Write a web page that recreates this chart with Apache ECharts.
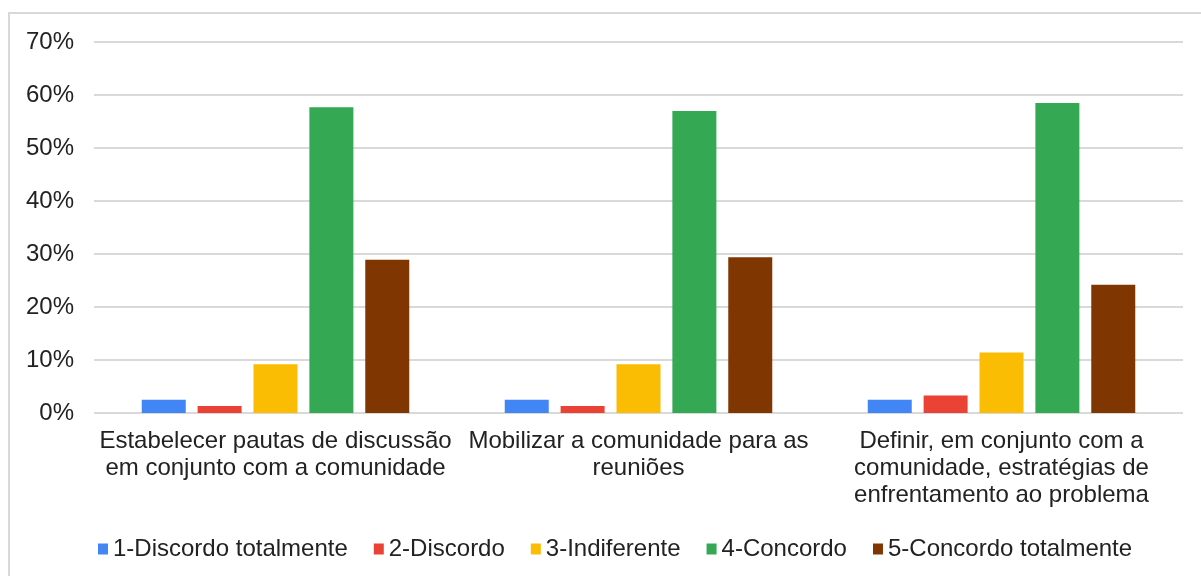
<!DOCTYPE html>
<html>
<head>
<meta charset="utf-8">
<script src="https://cdn.jsdelivr.net/npm/echarts@6/dist/echarts.min.js"></script>
<style>
  html, body { margin: 0; padding: 0; background: #fff; }
  #chart { width: 1201px; height: 576px; }
</style>
</head>
<body>
<div id="chart"></div>
<script>
// categorias (perguntas)
const categories = [
  "Estabelecer pautas de discussão\nem conjunto com a comunidade",
  "Mobilizar a comunidade para as\nreuniões",
  "Definir, em conjunto com a\ncomunidade, estratégias de\nenfrentamento ao problema"
];

const seriesNames = [
  "1-Discordo totalmente",
  "2-Discordo",
  "3-Indiferente",
  "4-Concordo",
  "5-Concordo totalmente"
];

// valores em %
const discordoTotal = [2.5, 2.5, 2.5];
const discordo = [1.3, 1.3, 3.3];
const indiferente = [9.2, 9.2, 11.4];
const concordo = [57.7, 57.0, 58.5];
const concordoTotal = [28.9, 29.4, 24.2];

const yTicks = [0, 10, 20, 30, 40, 50, 60, 70];

const colors = ["#4285F4", "#EA4335", "#FBBC04", "#34A853", "#803600"];
const values = [discordoTotal, discordo, indiferente, concordo, concordoTotal];

const chart = echarts.init(document.getElementById("chart"));

chart.setOption({
  animation: false,
  textStyle: { fontFamily: "Liberation Sans, Arial, sans-serif" },
  // moldura cinza em volta do gráfico
  graphic: [{
    type: "rect",
    shape: { x: 9, y: 13, width: 1300, height: 700 },
    style: { fill: "none", stroke: "#d9d9d9", lineWidth: 2 },
    silent: true
  }],
  grid: { left: 94, right: 18, top: 42, bottom: 163 },
  legend: {
    data: seriesNames,
    left: 93,
    top: 532,
    itemWidth: 10,
    itemHeight: 11,
    itemGap: 26,
    icon: "rect",
    textStyle: { fontSize: 24, color: "#222" }
  },
  xAxis: {
    type: "category",
    data: categories,
    axisLine: { show: false },
    axisTick: { show: false },
    axisLabel: {
      interval: 0,
      fontSize: 24,
      lineHeight: 27,
      color: "#222",
      margin: 15
    }
  },
  yAxis: {
    type: "value",
    min: yTicks[0],
    max: yTicks[yTicks.length - 1],
    interval: 10,
    axisLine: { show: false },
    axisTick: { show: false },
    axisLabel: { formatter: "{value}%", fontSize: 24, color: "#222", margin: 20 },
    splitLine: { lineStyle: { color: "#d9d9d9", width: 2 } }
  },
  series: seriesNames.map((name, i) => ({
    name: name,
    type: "bar",
    barWidth: 44,
    barGap: "27%",
    itemStyle: { color: colors[i] },
    data: values[i]
  }))
});
</script>
</body>
</html>
